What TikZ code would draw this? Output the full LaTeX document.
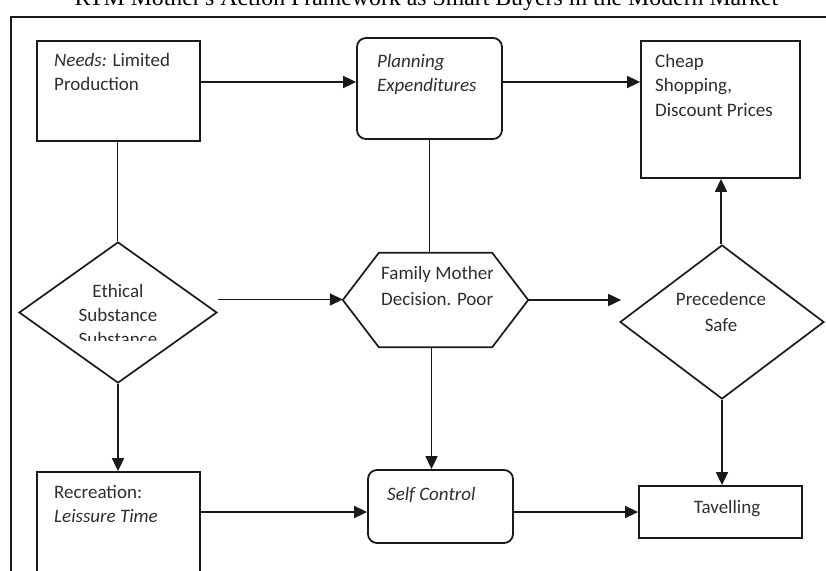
\documentclass[tikz,border=0pt]{standalone}
\usepackage{fontspec}
\setmainfont{Carlito}
\newfontfamily\titlefont{Liberation Serif}
\usetikzlibrary{arrows.meta,shapes.geometric}
\definecolor{lncol}{HTML}{1A1A1A}
\definecolor{txcol}{HTML}{2E2E2E}
\tikzset{
  box/.style={draw=lncol, line width=1.8pt, rectangle, inner sep=0pt},
  rbox/.style={box, rounded corners=9pt},
  dia/.style={draw=lncol, line width=1.7pt, diamond, inner sep=0pt},
  hexa/.style={draw=lncol, line width=1.7pt, line join=miter},
  plain/.style={draw=lncol, line width=1.7pt},
  arr/.style={draw=lncol, line width=1.7pt, -{Triangle[length=13pt,width=12pt]}},
  lbl/.style={text=txcol, inner sep=0pt, font=\fontsize{19}{23}\selectfont},
  frame/.style={draw=lncol, line width=2.2pt},
}
\begin{document}
\begin{tikzpicture}[x=1pt,y=-1pt]
\clip (0,0) rectangle (826,570);
% title
\node[anchor=base, inner sep=0pt, text=black, font=\titlefont\fontsize{23.8}{28}\selectfont] (title) at (426.5,5.5) {RTM Mother's Action Framework as Smart Buyers in the Modern Market};
% outer frame
\draw[frame] (11,590) -- (11,17) -- (840,17);

% shapes
\node[box, minimum width=163pt, minimum height=100pt] (needs) at (118.5,91) {};
\node[rbox, minimum width=145pt, minimum height=101pt] (plan) at (429.5,88.5) {};
\node[box, minimum width=159pt, minimum height=137pt] (cheap) at (720.5,109.5) {};
\node[dia, minimum width=198pt, minimum height=141pt] (ethical) at (118,312.5) {};
\node[inner sep=0pt, minimum width=185pt, minimum height=94pt] (family) at (435.5,300) {};
\draw[hexa] (family.west) -- ([xshift=36pt]family.north west) -- ([xshift=-36pt]family.north east) -- (family.east) -- ([xshift=-36pt]family.south east) -- ([xshift=36pt]family.south west) -- cycle;
\node[dia, minimum width=204pt, minimum height=154pt] (prec) at (722,322) {};
\node[box, minimum width=163pt, minimum height=128pt] (recr) at (118.5,536) {};
\node[rbox, minimum width=145pt, minimum height=73pt] (self) at (440.5,506.5) {};
\node[box, minimum width=163pt, minimum height=52pt] (tav) at (720.5,512) {};

% texts
\node[lbl, anchor=base west] (t1) at (54,66) {\textit{Needs:} Limited};
\node[lbl, anchor=base west] (t2) at (54,90) {Production};
\node[lbl, anchor=base west] (t3) at (377,67) {\textit{Planning}};
\node[lbl, anchor=base west] (t4) at (377,91) {\textit{Expenditures}};
\node[lbl, anchor=base west] (t5) at (655,67) {Cheap};
\node[lbl, anchor=base west] (t6) at (655,91) {Shopping,};
\node[lbl, anchor=base west] (t7) at (655,116) {Discount Prices};
\node[lbl, anchor=base] (t8) at (118,297) {Ethical};
\node[lbl, anchor=base] (t9) at (118,321) {Substance};
\begin{scope}
\clip (40,300) rectangle (200,340.5);
\node[lbl, anchor=base] (t10) at (118,345) {Substance};
\end{scope}
\begin{scope}
\clip (370,255) rectangle (492.5,290);
\node[lbl, anchor=base west] (t11) at (381,279) {Family Mother};
\end{scope}
\node[lbl, anchor=base west] (t12) at (381,305) {Decision. Poor};
\node[lbl, anchor=base] (t13) at (721,305) {Precedence};
\node[lbl, anchor=base] (t14) at (721,331) {Safe};
\node[lbl, anchor=base west] (t15) at (54,498) {Recreation:};
\node[lbl, anchor=base west] (t16) at (54,522) {\textit{Leissure Time}};
\node[lbl, anchor=base west] (t17) at (387,500) {\textit{Self Control}};
\node[lbl, anchor=base] (t18) at (727,513) {Tavelling};

% connectors
\draw[arr] ([yshift=9pt]needs.east) -- ([yshift=9pt]needs.east -| plan.west);
\draw[arr] ([yshift=6.5pt]plan.east) -- ([yshift=6.5pt]plan.east -| cheap.west);
\draw[plain] ([xshift=-1pt]needs.south) -- ([xshift=-1pt]needs.south |- ethical.north);
\draw[plain] (plan.south) -- (plan.south |- family.north);
\draw[arr] ([yshift=13pt]ethical.east) -- ([yshift=13pt]ethical.east -| family.west);
\draw[arr] (family.east) -- ([xshift=2pt]family.east -| prec.west);
\draw[arr] ([xshift=-1pt]prec.north) -- ([xshift=-1pt]prec.north |- cheap.south);
\draw[arr] (ethical.south) -- (ethical.south |- recr.north);
\draw[arr] ([xshift=-4pt]family.south) -- ([xshift=-4pt]family.south |- self.north);
\draw[arr] ([yshift=24pt]recr.east) -- ([yshift=24pt]recr.east -| self.west);
\draw[arr] ([yshift=-5.5pt]self.east) -- ([yshift=-5.5pt]self.east -| tav.west);
\draw[arr] (prec.south) -- (prec.south |- tav.north);
\end{tikzpicture}
\end{document}
